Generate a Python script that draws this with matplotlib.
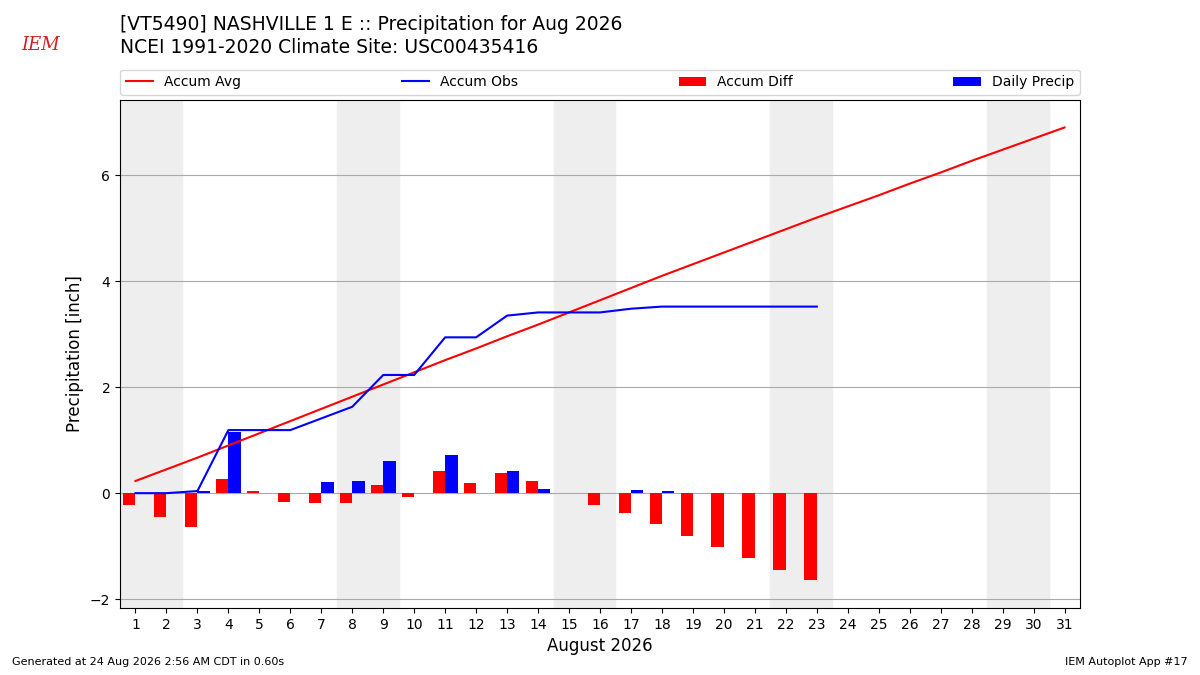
import numpy as np
import matplotlib
matplotlib.use("Agg")
import matplotlib.pyplot as plt

days = np.arange(1, 32)
accum_avg = [0.23, 0.45, 0.67, 0.90, 1.13, 1.36, 1.59, 1.82, 2.05, 2.28, 2.51,
             2.73, 2.96, 3.18, 3.41, 3.64, 3.87, 4.10, 4.32, 4.54, 4.76, 4.98,
             5.20, 5.41, 5.62, 5.84, 6.05, 6.27, 6.48, 6.69, 6.90]
obs_days = np.arange(1, 24)
accum_obs = [0.0, 0.0, 0.04, 1.19, 1.19, 1.19, 1.41, 1.63, 2.23, 2.23, 2.94, 2.94,
             3.35, 3.41, 3.41, 3.41, 3.48, 3.52, 3.52, 3.52, 3.52, 3.52, 3.52]
daily_precip = [0.0, 0.01, 0.04, 1.15, 0.0, 0.0, 0.21, 0.23, 0.60, 0.0, 0.72, 0.0,
                0.41, 0.07, 0.0, 0.0, 0.06, 0.04, 0.0, 0.0, 0.0, 0.0, 0.0]
accum_diff = [-0.22, -0.45, -0.64, 0.27, 0.04, -0.17, -0.19, -0.19, 0.16, -0.07, 0.42,
              0.19, 0.38, 0.23, 0.0, -0.22, -0.38, -0.58, -0.80, -1.02, -1.23, -1.45, -1.64]
weekends = [(0.5, 2.5), (7.5, 9.5), (14.5, 16.5), (21.5, 23.5), (28.5, 30.5)]

fig = plt.figure(figsize=(12, 6.75), dpi=100)
ax = fig.add_axes([0.1, 0.099, 0.8, 0.753])

for a, b in weekends:
    ax.axvspan(a, b, color="#eeeeee", zorder=0)

ax.plot(days, accum_avg, color="r", lw=1.5, label="Accum Avg", zorder=3)
ax.plot(obs_days, accum_obs, color="b", lw=1.5, label="Accum Obs", zorder=3)
ax.bar(obs_days - 0.2, accum_diff, width=0.4, color="r", label="Accum Diff", zorder=2)
ax.bar(obs_days + 0.2, daily_precip, width=0.4, color="b", label="Daily Precip", zorder=2)

ax.set_xlim(0.5, 31.5)
ax.set_ylim(-2.17, 7.42)
ax.set_xticks(days)
ax.set_yticks([-2, 0, 2, 4, 6])
ax.grid(axis="y", color="#aaaaaa", lw=0.8)
ax.set_axisbelow(True)
ax.set_ylabel("Precipitation [inch]", fontsize=12)
ax.set_xlabel("August 2026", fontsize=12)

ax.legend(loc="lower left", bbox_to_anchor=(0, 1.01, 1, 0.1), mode="expand",
          ncol=4, fontsize=10, borderaxespad=0)

fig.text(0.1, 0.964, "[VT5490] NASHVILLE 1 E :: Precipitation for Aug 2026", fontsize=13.5, va="center")
fig.text(0.1, 0.930, "NCEI 1991-2020 Climate Site: USC00435416", fontsize=13.5, va="center")
fig.text(0.018, 0.933, "IEM", color="#cc2222", fontsize=13, family="serif", style="italic", va="center")
fig.text(0.01, 0.015, "Generated at 24 Aug 2026 2:56 AM CDT in 0.60s", fontsize=8)
fig.text(0.99, 0.015, "IEM Autoplot App #17", fontsize=8, ha="right")

fig.savefig("out.png")
